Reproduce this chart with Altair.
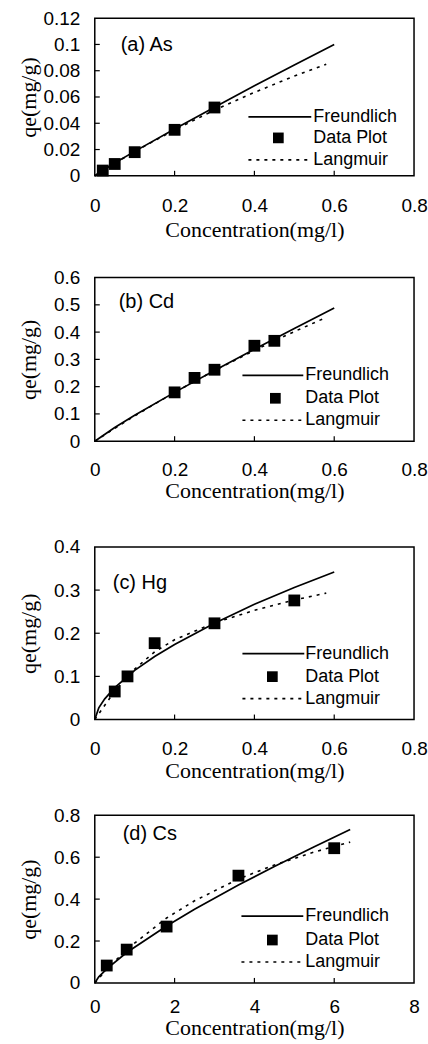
import altair as alt
import pandas as pd

# ---------------- data ----------------
# (a) As
a_pts_x = [0.02, 0.05, 0.10, 0.20, 0.30]
a_pts_y = [0.004, 0.009, 0.018, 0.035, 0.052]
a_fr_x = [0, 0.02, 0.05, 0.1, 0.2, 0.3, 0.4, 0.5, 0.6]
a_fr_y = [0, 0.0041, 0.0097, 0.0186, 0.0357, 0.0522, 0.0685, 0.0844, 0.1]
a_la_x = [0, 0.05, 0.1, 0.2, 0.3, 0.4, 0.5, 0.58]
a_la_y = [0, 0.0095, 0.0185, 0.035, 0.05, 0.0635, 0.0759, 0.085]

# (b) Cd
b_pts_x = [0.20, 0.25, 0.30, 0.40, 0.45]
b_pts_y = [0.179, 0.232, 0.262, 0.350, 0.368]
b_fr_x = [0, 0.05, 0.1, 0.2, 0.3, 0.4, 0.5, 0.6]
b_fr_y = [0, 0.050, 0.095, 0.179, 0.259, 0.337, 0.413, 0.488]
b_la_x = [0, 0.05, 0.1, 0.2, 0.3, 0.4, 0.45, 0.5, 0.58]
b_la_y = [0, 0.047, 0.093, 0.179, 0.259, 0.333, 0.368, 0.402, 0.454]

# (c) Hg
c_pts_x = [0.05, 0.082, 0.15, 0.30, 0.50]
c_pts_y = [0.065, 0.100, 0.177, 0.223, 0.276]
c_fr_x = [0, 0.01, 0.025, 0.05, 0.1, 0.15, 0.2, 0.3, 0.4, 0.5, 0.6]
c_fr_y = [0, 0.027, 0.048, 0.074, 0.114, 0.146, 0.174, 0.223, 0.267, 0.306, 0.342]
c_la_x = [0, 0.05, 0.1, 0.15, 0.2, 0.3, 0.4, 0.5, 0.58]
c_la_y = [0, 0.066, 0.117, 0.157, 0.185, 0.224, 0.253, 0.277, 0.293]

# (d) Cs
d_pts_x = [0.3, 0.8, 1.8, 3.6, 6.0]
d_pts_y = [0.083, 0.159, 0.269, 0.512, 0.643]
d_fr_x = [0, 0.1, 0.3, 0.8, 1.8, 2.5, 3.6, 4.5, 5.5, 6.4]
d_fr_y = [0, 0.029, 0.067, 0.145, 0.272, 0.352, 0.467, 0.556, 0.650, 0.732]
d_la_x = [0, 0.3, 0.8, 1.8, 2.5, 3.6, 4.5, 5.5, 6.4]
d_la_y = [0, 0.065, 0.160, 0.310, 0.392, 0.496, 0.563, 0.625, 0.672]

panel_labels = ["(a) As", "(b)  Cd", "(c)  Hg", "(d)  Cs"]
x_ticks_small = [0, 0.2, 0.4, 0.6, 0.8]
x_ticks_cs = [0, 2, 4, 6, 8]
y_ticks_as = [0, 0.02, 0.04, 0.06, 0.08, 0.1, 0.12]
y_ticks_cd = [0, 0.1, 0.2, 0.3, 0.4, 0.5, 0.6]
y_ticks_hg = [0, 0.1, 0.2, 0.3, 0.4]
y_ticks_cs = [0, 0.2, 0.4, 0.6, 0.8]
legend_names = ["Freundlich", "Data Plot", "Langmuir"]
x_title = "Concentration(mg/l)"
y_title = "qe(mg/g)"

# ---------------- layout (pixels) ----------------
W = 320
TOP_PAD = 16  # invisible spacer above each frame (covers the top tick label)
layouts = [
    dict(h=158, gap=99.7, lab_pad=30, title_y=54, rows=[59, 38, 16], lx=[154, 217], tx=219, sx=184, labx=26, laby=27),
    dict(h=164, gap=103.3, lab_pad=28, title_y=49, rows=[66, 43, 21], lx=[148, 209], tx=211, sx=181, labx=24, laby=25),
    dict(h=173, gap=93.5, lab_pad=29, title_y=51, rows=[66, 43, 21], lx=[148, 210], tx=211, sx=178, labx=18, laby=36),
    dict(h=168, gap=None, lab_pad=24, title_y=45, rows=[67, 43, 21], lx=[147, 209], tx=211, sx=178, labx=28, laby=19),
]

series = [
    (a_pts_x, a_pts_y, a_fr_x, a_fr_y, a_la_x, a_la_y, x_ticks_small, y_ticks_as),
    (b_pts_x, b_pts_y, b_fr_x, b_fr_y, b_la_x, b_la_y, x_ticks_small, y_ticks_cd),
    (c_pts_x, c_pts_y, c_fr_x, c_fr_y, c_la_x, c_la_y, x_ticks_small, y_ticks_hg),
    (d_pts_x, d_pts_y, d_fr_x, d_fr_y, d_la_x, d_la_y, x_ticks_cs, y_ticks_cs),
]


def make_panel(i):
    px, py, fx, fy, lx_, ly_, xt, yt = series[i]
    L = layouts[i]
    h = L["h"]
    xs = alt.Scale(domain=[xt[0], xt[-1]], nice=False, zero=False)
    ys = alt.Scale(domain=[yt[0], yt[-1]], nice=False, zero=False)
    xaxis = alt.Axis(values=xt, format=".2~f", ticks=False, tickSize=0, domain=False, grid=False,
                     labelPadding=L["lab_pad"], labelBaseline="middle", labelFlush=False, labelOverlap=False,
                     labelFont="Liberation Sans", labelFontSize=19, labelColor="black",
                     title=x_title, titleY=L["title_y"], titleBaseline="middle",
                     titleFont="Liberation Serif", titleFontSize=22, titleFontWeight="normal",
                     titleColor="black")
    yaxis = alt.Axis(values=yt, format=".2~f", ticks=False, tickSize=0, domain=False, grid=False,
                     labelPadding=15, labelFlush=False, labelOverlap=False,
                     labelFont="Liberation Sans", labelFontSize=19, labelColor="black",
                     title=y_title, titleX=-66, titleY=h / 2, titleAngle=270,
                     titleBaseline="middle", titleAlign="center",
                     titleFont="Liberation Serif", titleFontSize=22, titleFontWeight="normal",
                     titleColor="black")
    X = alt.X("x:Q", scale=xs, axis=xaxis)
    Y = alt.Y("y:Q", scale=ys, axis=yaxis)

    fr = alt.Chart(pd.DataFrame({"x": fx, "y": fy})).mark_line(
        color="black", strokeWidth=1.7).encode(x=X, y=Y, order=alt.Order("x:Q"))
    la = alt.Chart(pd.DataFrame({"x": lx_, "y": ly_})).mark_line(
        color="black", strokeWidth=1.6, strokeDash=[3, 5]).encode(x=X, y=Y, order=alt.Order("x:Q"))
    pts = alt.Chart(pd.DataFrame({"x": px, "y": py})).mark_square(
        color="black", size=140, opacity=1).encode(x=X, y=Y)

    xtk = alt.Chart(pd.DataFrame({"x": xt[1:-1]})).mark_rule(color="black", strokeWidth=1.2).encode(
        x=X, y=alt.value(h), y2=alt.value(h - 5))
    ytk = alt.Chart(pd.DataFrame({"y": yt[1:-1]})).mark_rule(color="black", strokeWidth=1.2).encode(
        y=Y, x=alt.value(0), x2=alt.value(5))

    r = L["rows"]
    leg_fr = alt.Chart(pd.DataFrame({"k": [legend_names[0]]})).mark_rule(
        color="black", strokeWidth=1.7).encode(
        x=alt.value(L["lx"][0]), x2=alt.value(L["lx"][1]), y=alt.value(h - r[0]))
    leg_la = alt.Chart(pd.DataFrame({"k": [legend_names[2]]})).mark_rule(
        color="black", strokeWidth=1.6, strokeDash=[3, 5]).encode(
        x=alt.value(L["lx"][0]), x2=alt.value(L["lx"][1]), y=alt.value(h - r[2]))
    leg_sq = alt.Chart(pd.DataFrame({"k": [legend_names[1]]})).mark_square(
        color="black", size=115, opacity=1).encode(
        x=alt.value(L["sx"]), y=alt.value(h - r[1]))
    leg_txt = []
    for j in range(3):
        leg_txt.append(
            alt.Chart(pd.DataFrame({"t": [legend_names[j]]})).mark_text(
                align="left", baseline="middle", font="Liberation Sans", fontSize=18, color="black"
            ).encode(text="t:N", x=alt.value(L["tx"]), y=alt.value(h - r[j]))
        )
    lab = alt.Chart(pd.DataFrame({"t": [panel_labels[i]]})).mark_text(
        align="left", baseline="middle", font="Liberation Sans", fontSize=20, color="black"
    ).encode(text="t:N", x=alt.value(L["labx"]), y=alt.value(L["laby"]))

    layers = [fr, la, pts, xtk, ytk, leg_fr, leg_la, leg_sq, *leg_txt, lab]

    # invisible layout spacers (fix the vertical position of the next panel)
    top_sp = alt.Chart(pd.DataFrame({"k": ["top"]})).mark_rule(opacity=0, strokeWidth=1).encode(
        x=alt.value(0), y=alt.value(-TOP_PAD), y2=alt.value(0))
    layers.append(top_sp)
    if L["gap"] is not None:
        bot_sp = alt.Chart(pd.DataFrame({"k": ["bottom"]})).mark_rule(opacity=0, strokeWidth=1).encode(
            x=alt.value(0), y=alt.value(h), y2=alt.value(h + L["gap"] - TOP_PAD))
        layers.append(bot_sp)

    return alt.layer(*layers).properties(width=W, height=h)


chart = alt.vconcat(*[make_panel(i) for i in range(4)], spacing=0).properties(
    padding={"left": 17, "top": 0, "right": 0, "bottom": 0},
    background="white",
).configure_view(
    stroke="black", strokeWidth=1.5
)

chart.save("out.html", embed_options={"renderer": "svg", "actions": False})
